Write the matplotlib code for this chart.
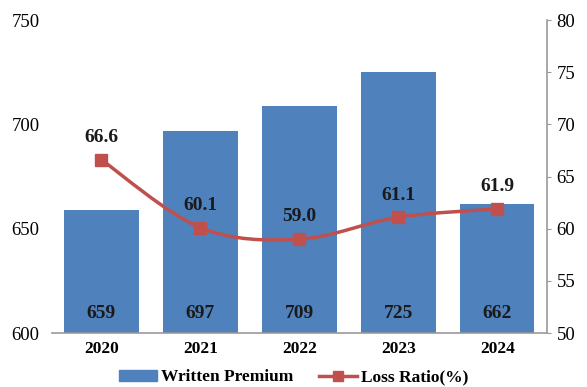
import matplotlib.pyplot as plt
import numpy as np
from matplotlib.path import Path
from matplotlib.patches import PathPatch
from matplotlib.lines import Line2D
from matplotlib.patches import Patch

plt.rcParams['font.family'] = ['Liberation Serif', 'DejaVu Serif']

years = ['2020', '2021', '2022', '2023', '2024']
premium = [659, 697, 709, 725, 662]
loss_ratio = [66.6, 60.1, 59.0, 61.1, 61.9]

bar_color = '#4F81BD'
line_color = '#C0504D'

fig = plt.figure(figsize=(5.87, 3.87), dpi=100)
ax = fig.add_axes([0.0886, 0.1395, 0.843, 0.8085])
x = np.arange(len(years))

ax.bar(x, np.array(premium) - 600, bottom=600, width=0.75, color=bar_color, zorder=2)
ax.set_ylim(600, 750)
ax.set_xlim(-0.5, len(years) - 0.5)
ax.set_yticks([600, 650, 700, 750])
ax.set_xticks(x)
ax.set_xticklabels(years, fontweight='bold', fontsize=12.5)
ax.tick_params(axis='y', length=0, pad=9, labelsize=13.5)
ax.tick_params(axis='x', length=0, pad=6)
for s in ['top', 'left', 'right']:
    ax.spines[s].set_visible(False)
ax.spines['bottom'].set_color('#999999')
ax.spines['bottom'].set_linewidth(1.2)

for xi, v in zip(x, premium):
    ax.annotate(str(v), (xi, 600), xytext=(0, 14), textcoords='offset points',
                ha='center', va='center', fontweight='bold', fontsize=14, color='#1a1a1a')

ax2 = ax.twinx()
ax2.set_ylim(50, 80)
ax2.set_yticks([50, 55, 60, 65, 70, 75, 80])
ax2.tick_params(axis='y', length=3, color='#999999', pad=4, labelsize=13.5)
for s in ['top', 'left', 'bottom']:
    ax2.spines[s].set_visible(False)
ax2.spines['right'].set_color('#999999')
ax2.spines['right'].set_linewidth(1.2)

# smooth curve through the points (Catmull-Rom as cubic Bezier)
pts = np.column_stack([x, loss_ratio]).astype(float)
verts = [pts[0]]
codes = [Path.MOVETO]
for i in range(len(pts) - 1):
    p0 = pts[i - 1] if i > 0 else pts[i]
    p1 = pts[i]
    p2 = pts[i + 1]
    p3 = pts[i + 2] if i + 2 < len(pts) else pts[i + 1]
    c1 = p1 + (p2 - p0) / 6
    c2 = p2 - (p3 - p1) / 6
    verts += [c1, c2, p2]
    codes += [Path.CURVE4] * 3
ax2.add_patch(PathPatch(Path(verts, codes), facecolor='none', edgecolor=line_color,
                        lw=2.5, zorder=3))
ax2.plot(x, loss_ratio, ls='none', marker='s', ms=8, color=line_color, zorder=4)

for xi, v in zip(x, loss_ratio):
    ax2.annotate(f'{v:.1f}', (xi, v), xytext=(0, 16), textcoords='offset points',
                 ha='center', va='center', fontweight='bold', fontsize=14, color='#1a1a1a')

handles = [Patch(color=bar_color),
           Line2D([], [], color=line_color, lw=2.5, marker='s', ms=7)]
fig.legend(handles, ['Written Premium', 'Loss Ratio(%)'], loc='center',
           bbox_to_anchor=(0.5, 0.025), ncol=2, frameon=False,
           prop={'weight': 'bold', 'size': 12.5}, handlelength=2.2, handleheight=0.6,
           columnspacing=1.5, handletextpad=0.2)

fig.savefig('out.png', dpi=100)
